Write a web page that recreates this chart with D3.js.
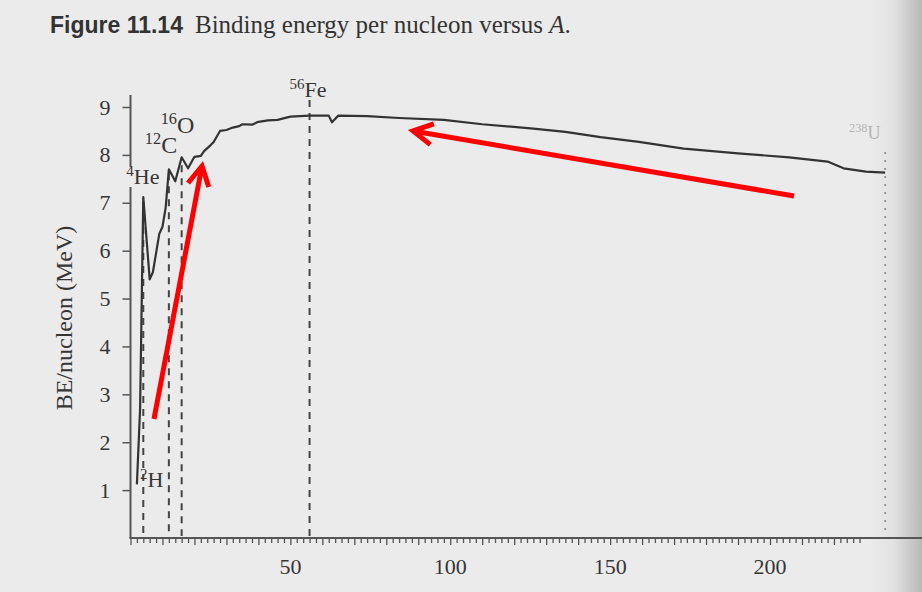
<!DOCTYPE html>
<html>
<head>
<meta charset="utf-8">
<script src="https://cdn.jsdelivr.net/npm/d3@7"></script>
<style>
  html, body { margin: 0; padding: 0; background: #ebebeb; }
  svg { display: block; }
</style>
</head>
<body>
<div id="vis"></div>
<script>
// curve: mass number A and binding energy per nucleon (MeV)
const massNumber = [2, 3, 4, 6, 7, 9, 10, 11, 12, 14, 16, 18, 20, 22, 23, 25, 26, 28, 30, 32, 34, 35, 38, 40, 43, 46, 50, 56, 60, 62, 63, 65, 74, 84, 98, 110, 126, 136, 147, 159, 173, 190, 206, 218, 223, 230, 236];
const bePerNucleon = [1.12, 2.7, 7.12, 5.4, 5.55, 6.35, 6.5, 6.9, 7.7, 7.45, 7.95, 7.72, 7.96, 7.98, 8.08, 8.2, 8.27, 8.5, 8.52, 8.57, 8.6, 8.64, 8.63, 8.69, 8.72, 8.73, 8.8, 8.82, 8.82, 8.82, 8.68, 8.82, 8.81, 8.77, 8.73, 8.64, 8.55, 8.48, 8.37, 8.27, 8.13, 8.03, 7.95, 7.86, 7.72, 7.65, 7.63];

// marked nuclides
const nuclideMass = [2, 4, 12, 16, 56, 236];
const nuclideSym = ["H", "He", "C", "O", "Fe", "U"];
const nuclideSup = ["2", "4", "12", "16", "56", "238"];

const yTicks = [1, 2, 3, 4, 5, 6, 7, 8, 9];
const xTicks = [50, 100, 150, 200];

const W = 922, H = 592;
const serif = "'Liberation Serif', 'Times New Roman', serif";
const ink = "#363636";

const svg = d3.select("#vis").append("svg")
    .attr("width", W)
    .attr("height", H);

// page background with darker curl at right edge
const defs = svg.append("defs");
const grad = defs.append("linearGradient").attr("id", "curl");
grad.append("stop").attr("offset", "0").attr("stop-color", "#ebebeb");
grad.append("stop").attr("offset", "0.45").attr("stop-color", "#e2e2e2");
grad.append("stop").attr("offset", "1").attr("stop-color", "#b9b9b9");
svg.append("rect").attr("width", W).attr("height", H).attr("fill", "#ebebeb");
svg.append("rect").attr("x", 870).attr("width", 52).attr("height", H).attr("fill", "url(#curl)");

// scales
const x = d3.scaleLinear().domain([0, 200]).range([130.5, 770]);
const y = d3.scaleLinear().domain([0, 9]).range([538, 107]);

// title
const title = svg.append("text")
    .attr("x", 50)
    .attr("y", 33)
    .attr("fill", "#333");
title.append("tspan")
    .attr("font-family", "'Liberation Sans', Arial, sans-serif")
    .attr("font-weight", "bold")
    .attr("font-size", 23)
    .text("Figure 11.14");
title.append("tspan")
    .attr("font-family", serif)
    .attr("font-size", 25)
    .attr("dx", 12)
    .text("Binding energy per nucleon versus ");
title.append("tspan")
    .attr("font-family", serif)
    .attr("font-size", 25)
    .attr("font-style", "italic")
    .text("A");
title.append("tspan")
    .attr("font-family", serif)
    .attr("font-size", 25)
    .text(".");

// x axis: minor ticks every 2, longer every 10
const xAxis = svg.append("g")
    .attr("transform", `translate(0, ${y(0)})`)
    .call(d3.axisBottom(x)
        .tickValues(d3.range(0, 230, 2))
        .tickSize(5)
        .tickFormat(""));
xAxis.select(".domain").remove();
xAxis.selectAll(".tick line")
    .attr("stroke", "#555")
    .attr("stroke-width", 1.3)
    .attr("y2", d => d % 10 === 0 ? 7 : 5);
svg.append("line")
    .attr("x1", x(0) - 1).attr("x2", W)
    .attr("y1", y(0)).attr("y2", y(0))
    .attr("stroke", "#555")
    .attr("stroke-width", 2);

svg.append("g")
    .attr("font-family", serif)
    .attr("font-size", 22)
    .attr("fill", ink)
    .attr("text-anchor", "middle")
  .selectAll("text")
  .data(xTicks)
  .join("text")
    .attr("x", d => x(d))
    .attr("y", 574)
    .text(d => d);

// y axis
const yAxis = svg.append("g")
    .attr("transform", `translate(${x(0)}, 0)`)
    .call(d3.axisLeft(y)
        .tickValues(yTicks)
        .tickSize(8)
        .tickPadding(12));
yAxis.select(".domain").remove();
yAxis.selectAll(".tick line").attr("stroke", "#555").attr("stroke-width", 1.5);
yAxis.selectAll(".tick text")
    .attr("font-family", serif)
    .attr("font-size", 22)
    .attr("fill", ink);
svg.append("line")
    .attr("x1", x(0)).attr("x2", x(0))
    .attr("y1", 95).attr("y2", y(0))
    .attr("stroke", "#555")
    .attr("stroke-width", 2);

svg.append("text")
    .attr("transform", `translate(72, 318) rotate(-90)`)
    .attr("text-anchor", "middle")
    .attr("font-family", serif)
    .attr("font-size", 24)
    .attr("fill", ink)
    .text("BE/nucleon (MeV)");

// dashed guides down to the axis
const beAt = a => bePerNucleon[massNumber.indexOf(a)];
const guides = [
    { a: 4, top: y(beAt(4)) + 4, dash: "7,6", color: "#444" },
    { a: 12, top: y(beAt(12)) + 4, dash: "7,6", color: "#444" },
    { a: 16, top: y(beAt(16)) + 8, dash: "7,6", color: "#444" },
    { a: 56, top: 100, dash: "7,6", color: "#444" },
    { a: 236, top: 152, dash: "2,6", color: "#9a9a9a" }
];
svg.append("g")
  .selectAll("line")
  .data(guides)
  .join("line")
    .attr("x1", d => x(d.a)).attr("x2", d => x(d.a))
    .attr("y1", d => d.top).attr("y2", y(0) - 2)
    .attr("stroke", d => d.color)
    .attr("stroke-width", 2)
    .attr("stroke-dasharray", d => d.dash);

// binding energy curve
const points = massNumber.map((a, i) => [a, bePerNucleon[i]]);
svg.append("path")
    .datum(points)
    .attr("fill", "none")
    .attr("stroke", "#333")
    .attr("stroke-width", 2.2)
    .attr("stroke-linejoin", "round")
    .attr("d", d3.line().x(d => x(d[0])).y(d => y(d[1])));

// nuclide labels (offsets from the marked point)
const labelPos = [
    { dx: 3, y: 487, size: 22, color: ink, bg: false },
    { dx: -17, y: 184, size: 22, color: ink, bg: true },
    { dx: -24, y: 153, size: 24, color: ink, bg: false },
    { dx: -21, y: 133, size: 24, color: ink, bg: false },
    { dx: -20, y: 97, size: 22, color: ink, bg: false },
    { dx: -36, y: 139, size: 18, color: "#b3b3b3", bg: false }
];
const labels = svg.append("g").attr("font-family", serif);
nuclideMass.forEach((a, i) => {
    const p = labelPos[i];
    if (p.bg) {
        labels.append("rect")
            .attr("x", x(a) + p.dx - 2).attr("y", p.y - 17)
            .attr("width", 8).attr("height", 20)
            .attr("fill", "#ebebeb");
    }
    const t = labels.append("text")
        .attr("x", x(a) + p.dx)
        .attr("y", p.y)
        .attr("fill", p.color)
        .attr("font-size", p.size);
    t.append("tspan")
        .attr("font-size", p.size * 0.68)
        .attr("dy", -p.size * 0.38)
        .text(nuclideSup[i]);
    t.append("tspan")
        .attr("dy", p.size * 0.38)
        .text(nuclideSym[i]);
});

// red annotation arrows drawn on the scan
const arrows = [
    { from: [154, 419], to: [202, 166] },
    { from: [794, 196], to: [413, 131] }
];
const red = svg.append("g")
    .attr("stroke", "#ff0000")
    .attr("stroke-width", 5)
    .attr("fill", "none")
    .attr("stroke-linejoin", "miter");
arrows.forEach(ar => {
    const [x1, y1] = ar.from, [x2, y2] = ar.to;
    const ang = Math.atan2(y1 - y2, x1 - x2);
    const len = 22, spread = 0.5;
    red.append("line")
        .attr("x1", x1).attr("y1", y1)
        .attr("x2", x2).attr("y2", y2);
    red.append("path")
        .attr("d", d3.line()([
            [x2 + len * Math.cos(ang - spread), y2 + len * Math.sin(ang - spread)],
            [x2, y2],
            [x2 + len * Math.cos(ang + spread), y2 + len * Math.sin(ang + spread)]
        ]));
});
</script>
</body>
</html>
